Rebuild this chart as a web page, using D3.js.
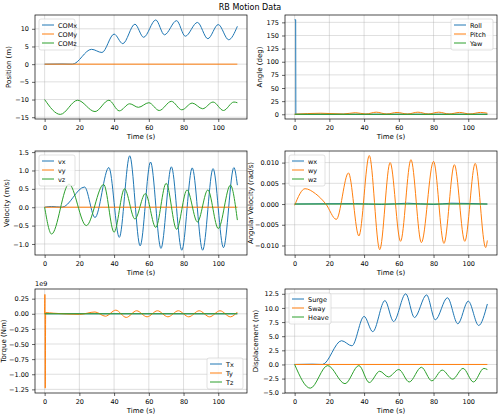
<!DOCTYPE html>
<html><head><meta charset="utf-8">
<script src="https://cdn.jsdelivr.net/npm/d3@7"></script>
<style>body{margin:0;background:#fff}text{font-family:"DejaVu Sans",sans-serif}</style>
</head><body><svg id="c" width="500" height="414"></svg>
<script>
const timeTicks=[0,20,40,60,80,100];
const surge=[[0,0],[10,0.05],[16,0],[27,4.2],[33,3.3],[40,8.5],[45,5.8],[52,11.3],[57,7.6],[64,12.5],[69,8.3],[76,12.3],[81,7.9],[88,11.8],[94,7.2],[100,11.2],[106,6.9],[111,10.7]];
const heave=[[0,0],[9,-4.2],[19,-0.2],[29,-3.4],[37,-0.2],[43,-3.2],[49,-1.2],[54,-2.2],[60,-0.9],[66,-3.1],[73,-0.5],[79,-2.9],[85,-1.0],[91,-2.6],[97,-0.7],[103,-3.1],[109,-0.7],[111,-0.9]];
const comz=[[0,-10],[9,-14.2],[19,-10.2],[29,-13.4],[37,-10.2],[43,-13.2],[49,-11.2],[54,-12.2],[60,-10.9],[66,-13.1],[73,-10.5],[79,-12.9],[85,-11.0],[91,-12.6],[97,-10.7],[103,-13.1],[109,-10.7],[111,-10.9]];
const zeroLine=[[0,0],[111,0]];
const roll=[[0,180],[0.6,180],[0.7,0],[111,0]];
const pitch=[[0,0],[15,2],[28,0.5],[35,3],[41,0.5],[47,4],[53,0.5],[59,3.5],[65,0.5],[71,4],[77,0.5],[83,4],[89,0.5],[95,3.5],[101,0.5],[107,3.5],[111,2]];
const vx=[[0,0],[4,0.02],[10,0],[23,0.55],[29,-0.28],[37,1.08],[43,-0.82],[49,1.4],[55,-1.05],[61,1.23],[67,-1.12],[73,1.1],[79,-1.17],[85,1.07],[91,-1.17],[97,1.05],[103,-1.1],[109,1.08],[111,0.6]];
const vz=[[0,0],[4,-0.73],[14,0.63],[24,-0.5],[34,0.62],[40,-0.68],[46,0.5],[52,-0.32],[58,0.37],[64,-0.55],[70,0.65],[76,-0.6],[82,0.47],[88,-0.4],[94,0.47],[100,-0.58],[107,0.6],[111,-0.35]];
const wx=[[0,0],[35,0.0001],[50,-0.0001],[65,0.0002],[80,-0.0001],[90,0.0002],[111,0]];
const wy=[[0,-0.0003],[6,0.0037],[12,0.0025],[18,0],[24,-0.0037],[31,0.0075],[37,-0.0077],[43,0.0117],[49,-0.011],[55,0.01],[61,-0.009],[67,0.0107],[73,-0.0093],[80,0.0103],[86,-0.0095],[92,0.0095],[98,-0.009],[104,0.0098],[110,-0.0105],[111,-0.0088]];
const ty=[[0,0],[0.15,0.32e9],[0.35,-1.23e9],[0.6,0.02e9],[5,0.01e9],[20,-0.01e9],[29,0.03e9],[35,-0.04e9],[41,0.06e9],[47,-0.06e9],[53,0.05e9],[59,-0.05e9],[65,0.05e9],[71,-0.05e9],[77,0.05e9],[83,-0.05e9],[89,0.05e9],[95,-0.05e9],[101,0.05e9],[107,-0.05e9],[111,0.03e9]];
const C=["#1f77b4","#ff7f0e","#2ca02c"];
const panels=[
 {x:35,y:15,ylab:"Position (m)",lo:-24,dom:[-15.5,13.9],ticks:[-15,-10,-5,0,5,10],fmt:d3.format("d"),series:[["COMx",surge],["COMy",zeroLine],["COMz",comz]],leg:"ul"},
 {x:285,y:15,ylab:"Angle (deg)",lo:-23,dom:[-9,189],ticks:[0,25,50,75,100,125,150,175],fmt:d3.format("d"),series:[["Roll",roll],["Pitch",pitch],["Yaw",zeroLine]],leg:"ur"},
 {x:35,y:151,ylab:"Velocity (m/s)",lo:-26,dom:[-1.3,1.53],ticks:[-1,-0.5,0,0.5,1,1.5],fmt:d3.format(".1f"),series:[["vx",vx],["vy",zeroLine],["vz",vz]],leg:"ul"},
 {x:285,y:151,ylab:"Angular Velocity (rad/s)",lo:-32,dom:[-0.0123,0.0128],ticks:[-0.01,-0.005,0,0.005,0.01],fmt:d3.format(".3f"),series:[["wx",wx],["wy",wy],["wz",zeroLine]],leg:"ul"},
 {x:35,y:289,ylab:"Torque (Nm)",lo:-29,dom:[-1.31e9,0.41e9],ticks:[-1.25e9,-1e9,-0.75e9,-0.5e9,-0.25e9,0,0.25e9],fmt:v=>d3.format(".2f")(v/1e9),series:[["Tx",zeroLine],["Ty",ty],["Tz",zeroLine]],leg:"lr",exp:"1e9"},
 {x:285,y:289,ylab:"Displacement (m)",lo:-27,dom:[-5.05,13.35],ticks:[-5,-2.5,0,2.5,5,7.5,10,12.5],fmt:d3.format(".1f"),series:[["Surge",surge],["Sway",zeroLine],["Heave",heave]],leg:"ul"}];
const svg=d3.select("#c");
svg.append("text").attr("x",250).attr("y",10).attr("text-anchor","middle").attr("font-size",8).text("RB Motion Data");
const W=212,H=104;
const fixMinus=s=>s.replace("-","\u2212");
panels.forEach(p=>{
 const g=svg.append("g").attr("transform",`translate(${p.x},${p.y})`);
 const x=d3.scaleLinear().domain([-5.55,116.55]).range([0,W]);
 const y=d3.scaleLinear().domain(p.dom).range([H,0]);
 g.selectAll(".gx").data(timeTicks).join("line").attr("x1",d=>x(d)).attr("x2",d=>x(d)).attr("y1",0).attr("y2",H).attr("stroke","#b0b0b0").attr("stroke-opacity",0.5).attr("stroke-width",0.8);
 g.selectAll(".gy").data(p.ticks).join("line").attr("y1",d=>y(d)).attr("y2",d=>y(d)).attr("x1",0).attr("x2",W).attr("stroke","#b0b0b0").attr("stroke-opacity",0.5).attr("stroke-width",0.8);
 const xa=g.append("g").attr("transform",`translate(0,${H})`).call(d3.axisBottom(x).tickValues(timeTicks).tickSize(3).tickFormat(d3.format("d")));
 const ya=g.append("g").call(d3.axisLeft(y).tickValues(p.ticks).tickSize(3).tickFormat(d=>fixMinus(p.fmt(d))));
 [xa,ya].forEach(a=>{a.select(".domain").remove();a.selectAll("text").attr("font-size",6.5).attr("fill","#000");a.selectAll("line").attr("stroke","#000").attr("stroke-width",0.6);});
 p.series.forEach((s,i)=>{
  const sharp=(s[0]==="Roll");
  const lf=d3.line().x(d=>x(d[0])).y(d=>y(d[1])).curve(sharp?d3.curveLinear:d3.curveMonotoneX);
  g.append("path").datum(s[1]).attr("d",lf).attr("fill","none").attr("stroke",C[i]).attr("stroke-width",1);
 });
 g.append("rect").attr("width",W).attr("height",H).attr("fill","none").attr("stroke","#000").attr("stroke-width",0.7);
 g.append("text").attr("x",W/2).attr("y",H+20).attr("text-anchor","middle").attr("font-size",7).text("Time (s)");
 g.append("text").attr("transform",`translate(${p.lo},${H/2}) rotate(-90)`).attr("text-anchor","middle").attr("font-size",7).text(p.ylab);
 if(p.exp) g.append("text").attr("x",0).attr("y",-3).attr("font-size",6.5).text(p.exp);
 const lw=p.series.some(s=>s[0].length>4)?42:36, lh=p.series.length*9+4;
 let lx=4,ly=4;
 if(p.leg==="ur"){lx=W-lw-4;} if(p.leg==="lr"){lx=W-lw-4;ly=H-lh-4;}
 const L=g.append("g").attr("transform",`translate(${lx},${ly})`);
 L.append("rect").attr("width",lw).attr("height",lh).attr("rx",2).attr("fill","#fff").attr("fill-opacity",0.8).attr("stroke","#ccc").attr("stroke-width",0.6);
 p.series.forEach((s,i)=>{
  L.append("line").attr("x1",3).attr("x2",15).attr("y1",6+i*9).attr("y2",6+i*9).attr("stroke",C[i]).attr("stroke-width",1);
  L.append("text").attr("x",19).attr("y",8.5+i*9).attr("font-size",6.5).text(s[0]);
 });
});
</script></body></html>
